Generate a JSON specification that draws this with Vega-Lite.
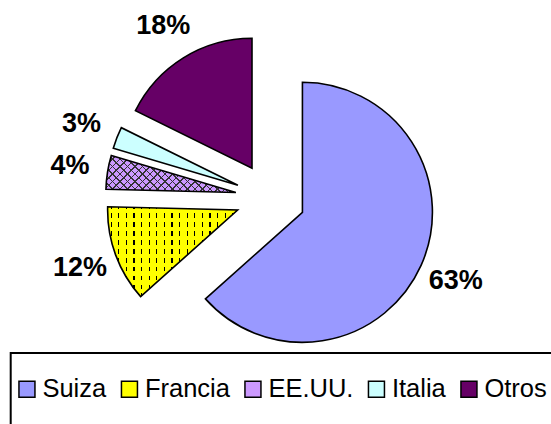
{
  "$schema": "https://vega.github.io/schema/vega-lite/v6.json",
  "width": 551,
  "height": 424,
  "autosize": {"type": "none"},
  "padding": 0,
  "background": "white",
  "config": {"view": {"stroke": null}},
  "data": {
    "values": [
      {"pais": "Suiza", "valor": 63.4, "orden": 1},
      {"pais": "Francia", "valor": 12.0, "orden": 2},
      {"pais": "EE.UU.", "valor": 4.2, "orden": 3},
      {"pais": "Italia", "valor": 2.7, "orden": 4},
      {"pais": "Otros", "valor": 17.7, "orden": 5}
    ]
  },
  "transform": [
    {"window": [{"op": "sum", "field": "valor", "as": "acum"}], "sort": [{"field": "orden", "order": "ascending"}], "frame": [null, 0]},
    {"joinaggregate": [{"op": "sum", "field": "valor", "as": "total"}]},
    {"calculate": "(datum.acum - datum.valor) / datum.total", "as": "a0"},
    {"calculate": "datum.acum / datum.total", "as": "a1"},
    {"calculate": "(datum.a0 + datum.a1) / 2", "as": "am"},
    {"calculate": "sin(2 * PI * datum.am)", "as": "dx"},
    {"calculate": "cos(2 * PI * datum.am)", "as": "dy"},
    {"calculate": "datum.valor / datum.total", "as": "frac"}
  ],
  "encoding": {
    "x": {"field": "dx", "type": "quantitative", "stack": null, "scale": {"domain": [-7.728, 8.015], "nice": false, "zero": false}, "axis": null},
    "y": {"field": "dy", "type": "quantitative", "stack": null, "scale": {"domain": [-6.457, 5.657], "nice": false, "zero": false}, "axis": null}
  },
  "layer": [
    {
      "mark": {"type": "arc", "outerRadius": 130, "opacity": 1},
      "encoding": {
        "theta": {"field": "a0", "type": "quantitative", "stack": null, "scale": {"domain": [0, 1]}},
        "theta2": {"field": "a1"},
        "color": {
          "field": "pais",
          "type": "nominal",
          "scale": {"domain": ["Suiza", "Francia", "EE.UU.", "Italia", "Otros"], "range": ["#9999FF", "#FFFF00", "#CC99FF", "#CCFFFF", "#660066"]},
          "legend": {
            "orient": "none",
            "legendX": 10.7,
            "legendY": 353,
            "direction": "horizontal",
            "columns": 5,
            "values": ["Suiza", "Francia", "EE.UU.", "Italia", "Otros", " "],
            "title": " ",
            "titleFontSize": 10,
            "titlePadding": 5,
            "titleOrient": "top",
            "symbolType": "square",
            "symbolSize": 240,
            "symbolOffset": -4.5,
            "symbolStrokeColor": "black",
            "symbolStrokeWidth": 1.5,
            "symbolOpacity": 1,
            "labelFont": "Liberation Sans",
            "labelFontSize": 25.5,
            "labelColor": "black",
            "labelOffset": 2.7,
            "labelLimit": 0,
            "labelBaseline": "middle",
            "labelExpr": "datum.value === ' ' ? '' : datum.label",
            "columnPadding": 11.5,
            "rowPadding": 10,
            "padding": 8,
            "strokeColor": "black",
            "encode": {
              "legend": {"update": {"strokeWidth": {"value": 2}}},
              "symbols": {"update": {"size": {"value": 256}, "stroke": {"value": "black"}, "strokeWidth": {"value": 1.5}, "opacity": {"signal": "datum.value === ' ' ? 0 : 1"}}}
            }
          }
        }
      }
    },
    {
      "transform": [{"filter": "datum.pais === 'Francia'"}],
      "mark": {
        "type": "arc",
        "outerRadius": 130,
        "fill": {
          "gradient": "linear", "x1": 0, "y1": 0, "x2": 1, "y2": 0,
          "stops": [
            {"offset": 0, "color": "rgba(0,0,0,0)"},
            {"offset": 0.023, "color": "rgba(0,0,0,0)"}, {"offset": 0.023, "color": "#000000"}, {"offset": 0.0322, "color": "#000000"}, {"offset": 0.0322, "color": "rgba(0,0,0,0)"},
            {"offset": 0.0815, "color": "rgba(0,0,0,0)"}, {"offset": 0.0815, "color": "#000000"}, {"offset": 0.0907, "color": "#000000"}, {"offset": 0.0907, "color": "rgba(0,0,0,0)"},
            {"offset": 0.1399, "color": "rgba(0,0,0,0)"}, {"offset": 0.1399, "color": "#000000"}, {"offset": 0.1491, "color": "#000000"}, {"offset": 0.1491, "color": "rgba(0,0,0,0)"},
            {"offset": 0.1984, "color": "rgba(0,0,0,0)"}, {"offset": 0.1984, "color": "#000000"}, {"offset": 0.2076, "color": "#000000"}, {"offset": 0.2076, "color": "rgba(0,0,0,0)"},
            {"offset": 0.2568, "color": "rgba(0,0,0,0)"}, {"offset": 0.2568, "color": "#000000"}, {"offset": 0.266, "color": "#000000"}, {"offset": 0.266, "color": "rgba(0,0,0,0)"},
            {"offset": 0.3153, "color": "rgba(0,0,0,0)"}, {"offset": 0.3153, "color": "#000000"}, {"offset": 0.3245, "color": "#000000"}, {"offset": 0.3245, "color": "rgba(0,0,0,0)"},
            {"offset": 0.3738, "color": "rgba(0,0,0,0)"}, {"offset": 0.3738, "color": "#000000"}, {"offset": 0.383, "color": "#000000"}, {"offset": 0.383, "color": "rgba(0,0,0,0)"},
            {"offset": 0.4322, "color": "rgba(0,0,0,0)"}, {"offset": 0.4322, "color": "#000000"}, {"offset": 0.4414, "color": "#000000"}, {"offset": 0.4414, "color": "rgba(0,0,0,0)"},
            {"offset": 0.4907, "color": "rgba(0,0,0,0)"}, {"offset": 0.4907, "color": "#000000"}, {"offset": 0.4999, "color": "#000000"}, {"offset": 0.4999, "color": "rgba(0,0,0,0)"},
            {"offset": 0.5491, "color": "rgba(0,0,0,0)"}, {"offset": 0.5491, "color": "#000000"}, {"offset": 0.5583, "color": "#000000"}, {"offset": 0.5583, "color": "rgba(0,0,0,0)"},
            {"offset": 0.6076, "color": "rgba(0,0,0,0)"}, {"offset": 0.6076, "color": "#000000"}, {"offset": 0.6168, "color": "#000000"}, {"offset": 0.6168, "color": "rgba(0,0,0,0)"},
            {"offset": 0.6661, "color": "rgba(0,0,0,0)"}, {"offset": 0.6661, "color": "#000000"}, {"offset": 0.6753, "color": "#000000"}, {"offset": 0.6753, "color": "rgba(0,0,0,0)"},
            {"offset": 0.7245, "color": "rgba(0,0,0,0)"}, {"offset": 0.7245, "color": "#000000"}, {"offset": 0.7337, "color": "#000000"}, {"offset": 0.7337, "color": "rgba(0,0,0,0)"},
            {"offset": 0.783, "color": "rgba(0,0,0,0)"}, {"offset": 0.783, "color": "#000000"}, {"offset": 0.7922, "color": "#000000"}, {"offset": 0.7922, "color": "rgba(0,0,0,0)"},
            {"offset": 0.8414, "color": "rgba(0,0,0,0)"}, {"offset": 0.8414, "color": "#000000"}, {"offset": 0.8506, "color": "#000000"}, {"offset": 0.8506, "color": "rgba(0,0,0,0)"},
            {"offset": 0.8999, "color": "rgba(0,0,0,0)"}, {"offset": 0.8999, "color": "#000000"}, {"offset": 0.9091, "color": "#000000"}, {"offset": 0.9091, "color": "rgba(0,0,0,0)"},
            {"offset": 0.9584, "color": "rgba(0,0,0,0)"}, {"offset": 0.9584, "color": "#000000"}, {"offset": 0.9676, "color": "#000000"}, {"offset": 0.9676, "color": "rgba(0,0,0,0)"},
            {"offset": 1, "color": "rgba(0,0,0,0)"}
          ]
        }
      },
      "encoding": {
        "theta": {"field": "a0", "type": "quantitative", "stack": null, "scale": {"domain": [0, 1]}},
        "theta2": {"field": "a1"}
      }
    },
    {
      "transform": [{"filter": "datum.pais === 'Francia'"}],
      "mark": {
        "type": "arc",
        "outerRadius": 130,
        "fill": {
          "gradient": "linear", "x1": 0, "y1": 0, "x2": 0, "y2": 1,
          "stops": [
            {"offset": 0, "color": "rgba(255,255,0,0)"},
            {"offset": 0.02, "color": "rgba(255,255,0,0)"}, {"offset": 0.02, "color": "#FFFF00"}, {"offset": 0.065, "color": "#FFFF00"}, {"offset": 0.065, "color": "rgba(255,255,0,0)"},
            {"offset": 0.12, "color": "rgba(255,255,0,0)"}, {"offset": 0.12, "color": "#FFFF00"}, {"offset": 0.165, "color": "#FFFF00"}, {"offset": 0.165, "color": "rgba(255,255,0,0)"},
            {"offset": 0.22, "color": "rgba(255,255,0,0)"}, {"offset": 0.22, "color": "#FFFF00"}, {"offset": 0.265, "color": "#FFFF00"}, {"offset": 0.265, "color": "rgba(255,255,0,0)"},
            {"offset": 0.32, "color": "rgba(255,255,0,0)"}, {"offset": 0.32, "color": "#FFFF00"}, {"offset": 0.365, "color": "#FFFF00"}, {"offset": 0.365, "color": "rgba(255,255,0,0)"},
            {"offset": 0.42, "color": "rgba(255,255,0,0)"}, {"offset": 0.42, "color": "#FFFF00"}, {"offset": 0.465, "color": "#FFFF00"}, {"offset": 0.465, "color": "rgba(255,255,0,0)"},
            {"offset": 0.52, "color": "rgba(255,255,0,0)"}, {"offset": 0.52, "color": "#FFFF00"}, {"offset": 0.565, "color": "#FFFF00"}, {"offset": 0.565, "color": "rgba(255,255,0,0)"},
            {"offset": 0.62, "color": "rgba(255,255,0,0)"}, {"offset": 0.62, "color": "#FFFF00"}, {"offset": 0.665, "color": "#FFFF00"}, {"offset": 0.665, "color": "rgba(255,255,0,0)"},
            {"offset": 0.72, "color": "rgba(255,255,0,0)"}, {"offset": 0.72, "color": "#FFFF00"}, {"offset": 0.765, "color": "#FFFF00"}, {"offset": 0.765, "color": "rgba(255,255,0,0)"},
            {"offset": 0.82, "color": "rgba(255,255,0,0)"}, {"offset": 0.82, "color": "#FFFF00"}, {"offset": 0.865, "color": "#FFFF00"}, {"offset": 0.865, "color": "rgba(255,255,0,0)"},
            {"offset": 0.92, "color": "rgba(255,255,0,0)"}, {"offset": 0.92, "color": "#FFFF00"}, {"offset": 0.965, "color": "#FFFF00"}, {"offset": 0.965, "color": "rgba(255,255,0,0)"},
            {"offset": 1, "color": "rgba(255,255,0,0)"}
          ]
        }
      },
      "encoding": {
        "theta": {"field": "a0", "type": "quantitative", "stack": null, "scale": {"domain": [0, 1]}},
        "theta2": {"field": "a1"}
      }
    },
    {
      "transform": [{"filter": "datum.pais === 'EE.UU.'"}],
      "mark": {
        "type": "arc",
        "outerRadius": 130,
        "fill": {
          "gradient": "linear", "x1": 0, "y1": 0, "x2": 1.1885, "y2": 0.3387,
          "stops": [
            {"offset": 0, "color": "rgba(51,51,51,0)"},
            {"offset": 0.01, "color": "rgba(51,51,51,0)"}, {"offset": 0.01, "color": "#333333"}, {"offset": 0.021, "color": "#333333"}, {"offset": 0.021, "color": "rgba(51,51,51,0)"},
            {"offset": 0.0549, "color": "rgba(51,51,51,0)"}, {"offset": 0.0549, "color": "#333333"}, {"offset": 0.0659, "color": "#333333"}, {"offset": 0.0659, "color": "rgba(51,51,51,0)"},
            {"offset": 0.0998, "color": "rgba(51,51,51,0)"}, {"offset": 0.0998, "color": "#333333"}, {"offset": 0.1108, "color": "#333333"}, {"offset": 0.1108, "color": "rgba(51,51,51,0)"},
            {"offset": 0.1447, "color": "rgba(51,51,51,0)"}, {"offset": 0.1447, "color": "#333333"}, {"offset": 0.1557, "color": "#333333"}, {"offset": 0.1557, "color": "rgba(51,51,51,0)"},
            {"offset": 0.1896, "color": "rgba(51,51,51,0)"}, {"offset": 0.1896, "color": "#333333"}, {"offset": 0.2006, "color": "#333333"}, {"offset": 0.2006, "color": "rgba(51,51,51,0)"},
            {"offset": 0.2345, "color": "rgba(51,51,51,0)"}, {"offset": 0.2345, "color": "#333333"}, {"offset": 0.2455, "color": "#333333"}, {"offset": 0.2455, "color": "rgba(51,51,51,0)"},
            {"offset": 0.2794, "color": "rgba(51,51,51,0)"}, {"offset": 0.2794, "color": "#333333"}, {"offset": 0.2904, "color": "#333333"}, {"offset": 0.2904, "color": "rgba(51,51,51,0)"},
            {"offset": 0.3243, "color": "rgba(51,51,51,0)"}, {"offset": 0.3243, "color": "#333333"}, {"offset": 0.3353, "color": "#333333"}, {"offset": 0.3353, "color": "rgba(51,51,51,0)"},
            {"offset": 0.3692, "color": "rgba(51,51,51,0)"}, {"offset": 0.3692, "color": "#333333"}, {"offset": 0.3802, "color": "#333333"}, {"offset": 0.3802, "color": "rgba(51,51,51,0)"},
            {"offset": 0.4141, "color": "rgba(51,51,51,0)"}, {"offset": 0.4141, "color": "#333333"}, {"offset": 0.4251, "color": "#333333"}, {"offset": 0.4251, "color": "rgba(51,51,51,0)"},
            {"offset": 0.459, "color": "rgba(51,51,51,0)"}, {"offset": 0.459, "color": "#333333"}, {"offset": 0.47, "color": "#333333"}, {"offset": 0.47, "color": "rgba(51,51,51,0)"},
            {"offset": 0.5039, "color": "rgba(51,51,51,0)"}, {"offset": 0.5039, "color": "#333333"}, {"offset": 0.5149, "color": "#333333"}, {"offset": 0.5149, "color": "rgba(51,51,51,0)"},
            {"offset": 0.5488, "color": "rgba(51,51,51,0)"}, {"offset": 0.5488, "color": "#333333"}, {"offset": 0.5598, "color": "#333333"}, {"offset": 0.5598, "color": "rgba(51,51,51,0)"},
            {"offset": 0.5937, "color": "rgba(51,51,51,0)"}, {"offset": 0.5937, "color": "#333333"}, {"offset": 0.6047, "color": "#333333"}, {"offset": 0.6047, "color": "rgba(51,51,51,0)"},
            {"offset": 0.6386, "color": "rgba(51,51,51,0)"}, {"offset": 0.6386, "color": "#333333"}, {"offset": 0.6496, "color": "#333333"}, {"offset": 0.6496, "color": "rgba(51,51,51,0)"},
            {"offset": 0.6835, "color": "rgba(51,51,51,0)"}, {"offset": 0.6835, "color": "#333333"}, {"offset": 0.6945, "color": "#333333"}, {"offset": 0.6945, "color": "rgba(51,51,51,0)"},
            {"offset": 0.7284, "color": "rgba(51,51,51,0)"}, {"offset": 0.7284, "color": "#333333"}, {"offset": 0.7394, "color": "#333333"}, {"offset": 0.7394, "color": "rgba(51,51,51,0)"},
            {"offset": 0.7733, "color": "rgba(51,51,51,0)"}, {"offset": 0.7733, "color": "#333333"}, {"offset": 0.7843, "color": "#333333"}, {"offset": 0.7843, "color": "rgba(51,51,51,0)"},
            {"offset": 0.8182, "color": "rgba(51,51,51,0)"}, {"offset": 0.8182, "color": "#333333"}, {"offset": 0.8292, "color": "#333333"}, {"offset": 0.8292, "color": "rgba(51,51,51,0)"},
            {"offset": 0.8631, "color": "rgba(51,51,51,0)"}, {"offset": 0.8631, "color": "#333333"}, {"offset": 0.8741, "color": "#333333"}, {"offset": 0.8741, "color": "rgba(51,51,51,0)"},
            {"offset": 0.908, "color": "rgba(51,51,51,0)"}, {"offset": 0.908, "color": "#333333"}, {"offset": 0.919, "color": "#333333"}, {"offset": 0.919, "color": "rgba(51,51,51,0)"},
            {"offset": 0.9529, "color": "rgba(51,51,51,0)"}, {"offset": 0.9529, "color": "#333333"}, {"offset": 0.9639, "color": "#333333"}, {"offset": 0.9639, "color": "rgba(51,51,51,0)"},
            {"offset": 1, "color": "rgba(51,51,51,0)"}
          ]
        }
      },
      "encoding": {
        "theta": {"field": "a0", "type": "quantitative", "stack": null, "scale": {"domain": [0, 1]}},
        "theta2": {"field": "a1"}
      }
    },
    {
      "transform": [{"filter": "datum.pais === 'EE.UU.'"}],
      "mark": {
        "type": "arc",
        "outerRadius": 130,
        "fill": {
          "gradient": "linear", "x1": 0, "y1": 1, "x2": 1.1885, "y2": 0.6613,
          "stops": [
            {"offset": 0, "color": "rgba(51,51,51,0)"},
            {"offset": 0.01, "color": "rgba(51,51,51,0)"}, {"offset": 0.01, "color": "#333333"}, {"offset": 0.021, "color": "#333333"}, {"offset": 0.021, "color": "rgba(51,51,51,0)"},
            {"offset": 0.0549, "color": "rgba(51,51,51,0)"}, {"offset": 0.0549, "color": "#333333"}, {"offset": 0.0659, "color": "#333333"}, {"offset": 0.0659, "color": "rgba(51,51,51,0)"},
            {"offset": 0.0998, "color": "rgba(51,51,51,0)"}, {"offset": 0.0998, "color": "#333333"}, {"offset": 0.1108, "color": "#333333"}, {"offset": 0.1108, "color": "rgba(51,51,51,0)"},
            {"offset": 0.1447, "color": "rgba(51,51,51,0)"}, {"offset": 0.1447, "color": "#333333"}, {"offset": 0.1557, "color": "#333333"}, {"offset": 0.1557, "color": "rgba(51,51,51,0)"},
            {"offset": 0.1896, "color": "rgba(51,51,51,0)"}, {"offset": 0.1896, "color": "#333333"}, {"offset": 0.2006, "color": "#333333"}, {"offset": 0.2006, "color": "rgba(51,51,51,0)"},
            {"offset": 0.2345, "color": "rgba(51,51,51,0)"}, {"offset": 0.2345, "color": "#333333"}, {"offset": 0.2455, "color": "#333333"}, {"offset": 0.2455, "color": "rgba(51,51,51,0)"},
            {"offset": 0.2794, "color": "rgba(51,51,51,0)"}, {"offset": 0.2794, "color": "#333333"}, {"offset": 0.2904, "color": "#333333"}, {"offset": 0.2904, "color": "rgba(51,51,51,0)"},
            {"offset": 0.3243, "color": "rgba(51,51,51,0)"}, {"offset": 0.3243, "color": "#333333"}, {"offset": 0.3353, "color": "#333333"}, {"offset": 0.3353, "color": "rgba(51,51,51,0)"},
            {"offset": 0.3692, "color": "rgba(51,51,51,0)"}, {"offset": 0.3692, "color": "#333333"}, {"offset": 0.3802, "color": "#333333"}, {"offset": 0.3802, "color": "rgba(51,51,51,0)"},
            {"offset": 0.4141, "color": "rgba(51,51,51,0)"}, {"offset": 0.4141, "color": "#333333"}, {"offset": 0.4251, "color": "#333333"}, {"offset": 0.4251, "color": "rgba(51,51,51,0)"},
            {"offset": 0.459, "color": "rgba(51,51,51,0)"}, {"offset": 0.459, "color": "#333333"}, {"offset": 0.47, "color": "#333333"}, {"offset": 0.47, "color": "rgba(51,51,51,0)"},
            {"offset": 0.5039, "color": "rgba(51,51,51,0)"}, {"offset": 0.5039, "color": "#333333"}, {"offset": 0.5149, "color": "#333333"}, {"offset": 0.5149, "color": "rgba(51,51,51,0)"},
            {"offset": 0.5488, "color": "rgba(51,51,51,0)"}, {"offset": 0.5488, "color": "#333333"}, {"offset": 0.5598, "color": "#333333"}, {"offset": 0.5598, "color": "rgba(51,51,51,0)"},
            {"offset": 0.5937, "color": "rgba(51,51,51,0)"}, {"offset": 0.5937, "color": "#333333"}, {"offset": 0.6047, "color": "#333333"}, {"offset": 0.6047, "color": "rgba(51,51,51,0)"},
            {"offset": 0.6386, "color": "rgba(51,51,51,0)"}, {"offset": 0.6386, "color": "#333333"}, {"offset": 0.6496, "color": "#333333"}, {"offset": 0.6496, "color": "rgba(51,51,51,0)"},
            {"offset": 0.6835, "color": "rgba(51,51,51,0)"}, {"offset": 0.6835, "color": "#333333"}, {"offset": 0.6945, "color": "#333333"}, {"offset": 0.6945, "color": "rgba(51,51,51,0)"},
            {"offset": 0.7284, "color": "rgba(51,51,51,0)"}, {"offset": 0.7284, "color": "#333333"}, {"offset": 0.7394, "color": "#333333"}, {"offset": 0.7394, "color": "rgba(51,51,51,0)"},
            {"offset": 0.7733, "color": "rgba(51,51,51,0)"}, {"offset": 0.7733, "color": "#333333"}, {"offset": 0.7843, "color": "#333333"}, {"offset": 0.7843, "color": "rgba(51,51,51,0)"},
            {"offset": 0.8182, "color": "rgba(51,51,51,0)"}, {"offset": 0.8182, "color": "#333333"}, {"offset": 0.8292, "color": "#333333"}, {"offset": 0.8292, "color": "rgba(51,51,51,0)"},
            {"offset": 0.8631, "color": "rgba(51,51,51,0)"}, {"offset": 0.8631, "color": "#333333"}, {"offset": 0.8741, "color": "#333333"}, {"offset": 0.8741, "color": "rgba(51,51,51,0)"},
            {"offset": 0.908, "color": "rgba(51,51,51,0)"}, {"offset": 0.908, "color": "#333333"}, {"offset": 0.919, "color": "#333333"}, {"offset": 0.919, "color": "rgba(51,51,51,0)"},
            {"offset": 0.9529, "color": "rgba(51,51,51,0)"}, {"offset": 0.9529, "color": "#333333"}, {"offset": 0.9639, "color": "#333333"}, {"offset": 0.9639, "color": "rgba(51,51,51,0)"},
            {"offset": 1, "color": "rgba(51,51,51,0)"}
          ]
        }
      },
      "encoding": {
        "theta": {"field": "a0", "type": "quantitative", "stack": null, "scale": {"domain": [0, 1]}},
        "theta2": {"field": "a1"}
      }
    },
    {
      "mark": {"type": "arc", "outerRadius": 130, "fillOpacity": 0, "stroke": "black", "strokeWidth": 1.6, "strokeJoin": "miter"},
      "encoding": {
        "theta": {"field": "a0", "type": "quantitative", "stack": null, "scale": {"domain": [0, 1]}},
        "theta2": {"field": "a1"}
      }
    },
    {
      "mark": {"type": "text", "radius": 168, "font": "Liberation Sans", "fontSize": 27, "fontWeight": "bold", "color": "black", "align": "center", "baseline": "middle"},
      "encoding": {
        "theta": {"field": "am", "type": "quantitative", "stack": null, "scale": {"domain": [0, 1]}},
        "text": {"field": "frac", "type": "quantitative", "format": ".0%"}
      }
    }
  ]
}
